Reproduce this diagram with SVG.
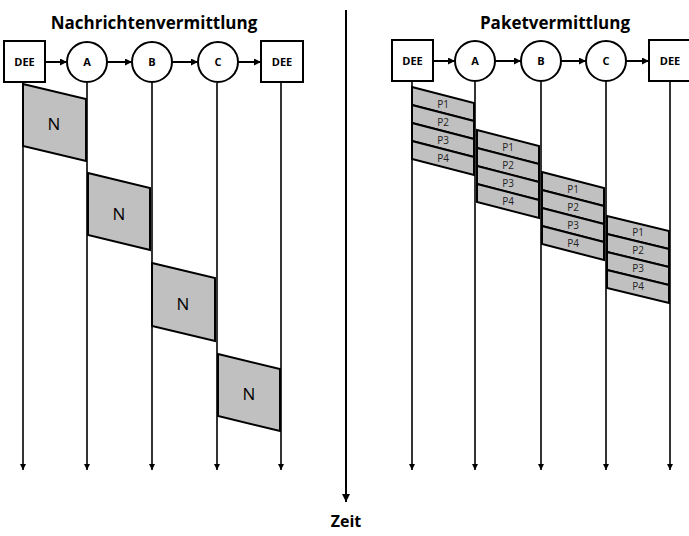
<svg xmlns="http://www.w3.org/2000/svg" width="689" height="536" viewBox="0 0 689 536">
<defs>
<marker id="ah" viewBox="0 0 10 10" refX="10" refY="5" markerWidth="4" markerHeight="4" orient="auto" markerUnits="strokeWidth">
<path d="M0,0 L10,5 L0,10 z" fill="#000"/>
</marker>
<marker id="ahs" viewBox="0 0 10 10" refX="10" refY="5" markerWidth="4.5" markerHeight="3.5" orient="auto" markerUnits="strokeWidth">
<path d="M0,0 L10,5 L0,10 z" fill="#000"/>
</marker>
</defs>
<style>
.box{fill:#fff;stroke:#000;stroke-width:2}
.nl{font-family:"Open Sans","Liberation Sans",sans-serif;font-weight:bold;font-size:11px;text-anchor:middle;fill:#000}
.title{font-family:"Open Sans","Liberation Sans",sans-serif;font-weight:bold;font-size:17px;text-anchor:middle;fill:#000}
.ln{stroke:#000;stroke-width:2;fill:none}
.hd{stroke:#000;stroke-width:2;fill:none;marker-end:url(#ahs)}
.life{stroke:#000;stroke-width:1.6;fill:none;marker-end:url(#ah)}
.msg{fill:#c0c0c0;stroke:#000;stroke-width:2;stroke-linejoin:miter}
.nt{font-family:"Open Sans","Liberation Sans",sans-serif;font-size:17px;text-anchor:middle;fill:#000}
.pt{font-family:"Open Sans","Liberation Sans",sans-serif;font-size:10px;text-anchor:middle;fill:#222}
</style>
<rect x="0" y="0" width="689" height="536" fill="#fff"/>

<text class="title" x="154" y="29">Nachrichtenvermittlung</text>
<text class="title" x="555" y="29">Paketvermittlung</text>
<text class="title" x="346" y="527" style="font-size:16px">Zeit</text>

<g id="connectors">
<!-- header arrows left -->
<line class="hd" x1="45" y1="62" x2="67" y2="62"/>
<line class="hd" x1="107" y1="62" x2="132" y2="62"/>
<line class="hd" x1="172" y1="62" x2="198" y2="62"/>
<line class="hd" x1="238" y1="62" x2="261" y2="62"/>
<!-- header arrows right -->
<line class="hd" x1="433" y1="61" x2="455" y2="61"/>
<line class="hd" x1="495" y1="61" x2="521" y2="61"/>
<line class="hd" x1="561" y1="61" x2="586" y2="61"/>
<line class="hd" x1="626" y1="61" x2="649" y2="61"/>
<!-- lifelines left -->
<line class="life" x1="23" y1="83" x2="23" y2="470"/>
<line class="life" x1="87" y1="83" x2="87" y2="470"/>
<line class="life" x1="152" y1="83" x2="152" y2="470"/>
<line class="life" x1="217" y1="83" x2="217" y2="470"/>
<line class="life" x1="281" y1="83" x2="281" y2="470"/>
<!-- time axis -->
<line class="life" x1="346" y1="10" x2="346" y2="502" style="stroke-width:2"/>
<!-- lifelines right -->
<line class="life" x1="412" y1="82" x2="412" y2="470"/>
<line class="life" x1="475" y1="82" x2="475" y2="470"/>
<line class="life" x1="541" y1="82" x2="541" y2="470"/>
<line class="life" x1="606" y1="82" x2="606" y2="470"/>
<line class="life" x1="670" y1="82" x2="670" y2="470"/>
</g>

<g id="L-DEE1"><rect class="box" x="4" y="41" width="41" height="41"/><text class="nl" x="24.5" y="66">DEE</text></g>
<g id="L-A"><circle class="box" cx="87" cy="62" r="20"/><text class="nl" x="87" y="66">A</text></g>
<g id="L-B"><circle class="box" cx="152" cy="62" r="20"/><text class="nl" x="152" y="66">B</text></g>
<g id="L-C"><circle class="box" cx="218" cy="62" r="20"/><text class="nl" x="218" y="66">C</text></g>
<g id="L-DEE2"><rect class="box" x="261" y="41" width="42" height="41"/><text class="nl" x="282" y="66">DEE</text></g>

<g id="R-DEE1"><rect class="box" x="392" y="40" width="41" height="41"/><text class="nl" x="412.5" y="65">DEE</text></g>
<g id="R-A"><circle class="box" cx="475" cy="61" r="20"/><text class="nl" x="475" y="65">A</text></g>
<g id="R-B"><circle class="box" cx="541" cy="61" r="20"/><text class="nl" x="541" y="65">B</text></g>
<g id="R-C"><circle class="box" cx="606" cy="61" r="20"/><text class="nl" x="606" y="65">C</text></g>
<g id="R-DEE2"><rect class="box" x="649" y="40" width="42" height="41"/><text class="nl" x="670" y="65">DEE</text></g>

<g id="N1"><polygon class="msg" points="23,84 86,99 86,161 23,146"/><text class="nt" x="54" y="130">N</text></g>
<g id="N2"><polygon class="msg" points="88,173 150,188 150,250 88,235"/><text class="nt" x="119" y="220">N</text></g>
<g id="N3"><polygon class="msg" points="152,263 215,278 215,341 152,326"/><text class="nt" x="183" y="310">N</text></g>
<g id="N4"><polygon class="msg" points="218,354 280,369 280,431 218,416"/><text class="nt" x="249" y="400">N</text></g>

<g id="G1">
<polygon class="msg" points="412,87 474,103 474,121 412,105"/><text class="pt" x="443" y="108">P1</text>
<polygon class="msg" points="412,105 474,121 474,139 412,123"/><text class="pt" x="443" y="126">P2</text>
<polygon class="msg" points="412,123 474,139 474,157 412,141"/><text class="pt" x="443" y="144">P3</text>
<polygon class="msg" points="412,141 474,157 474,175 412,159"/><text class="pt" x="443" y="162">P4</text>
</g>
<g id="G2">
<polygon class="msg" points="477,130 539,146 539,164 477,148"/><text class="pt" x="508" y="151">P1</text>
<polygon class="msg" points="477,148 539,164 539,182 477,166"/><text class="pt" x="508" y="169">P2</text>
<polygon class="msg" points="477,166 539,182 539,200 477,184"/><text class="pt" x="508" y="187">P3</text>
<polygon class="msg" points="477,184 539,200 539,218 477,202"/><text class="pt" x="508" y="205">P4</text>
</g>
<g id="G3">
<polygon class="msg" points="542,172 604,188 604,206 542,190"/><text class="pt" x="573" y="193">P1</text>
<polygon class="msg" points="542,190 604,206 604,224 542,208"/><text class="pt" x="573" y="211">P2</text>
<polygon class="msg" points="542,208 604,224 604,242 542,226"/><text class="pt" x="573" y="229">P3</text>
<polygon class="msg" points="542,226 604,242 604,260 542,244"/><text class="pt" x="573" y="247">P4</text>
</g>
<g id="G4">
<polygon class="msg" points="607,216 669,231 669,249 607,234"/><text class="pt" x="638" y="236">P1</text>
<polygon class="msg" points="607,234 669,249 669,267 607,252"/><text class="pt" x="638" y="254">P2</text>
<polygon class="msg" points="607,252 669,267 669,285 607,270"/><text class="pt" x="638" y="272">P3</text>
<polygon class="msg" points="607,270 669,285 669,303 607,288"/><text class="pt" x="638" y="290">P4</text>
</g>
</svg>
